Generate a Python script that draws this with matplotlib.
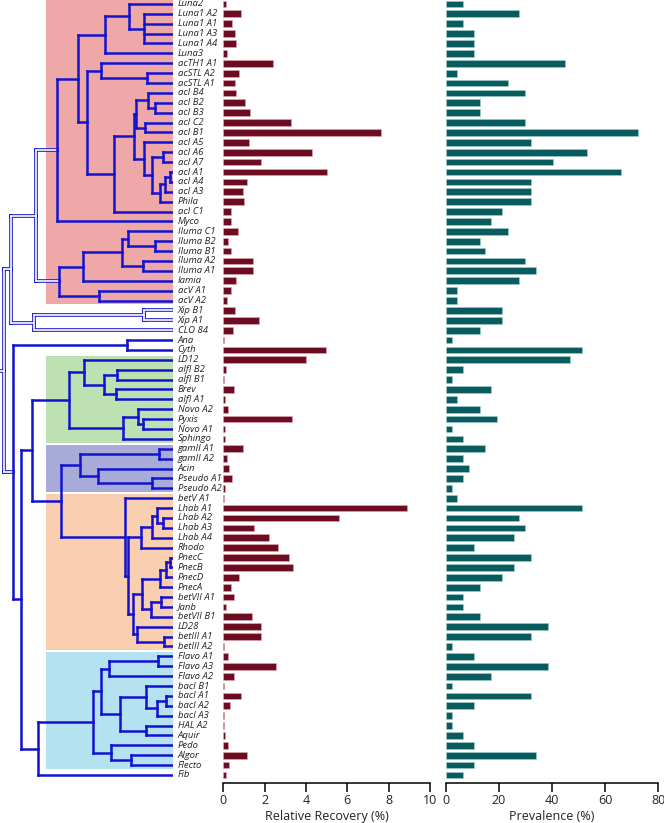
import matplotlib
matplotlib.use('Agg')
import matplotlib.pyplot as plt
from matplotlib.collections import LineCollection
from matplotlib.patches import Rectangle

labels = ['Luna2', 'Luna1 A2', 'Luna1 A1', 'Luna1 A3', 'Luna1 A4', 'Luna3',
          'acTH1 A1', 'acSTL A2', 'acSTL A1', 'acI B4', 'acI B2', 'acI B3',
          'acI C2', 'acI B1', 'acI A5', 'acI A6', 'acI A7', 'acI A1', 'acI A4',
          'acI A3', 'Phila', 'acI C1', 'Myco', 'Iluma C1', 'Iluma B2',
          'Iluma B1', 'Iluma A2', 'Iluma A1', 'Iamia', 'acV A1', 'acV A2',
          'Xip B1', 'Xip A1', 'CLO 84', 'Ana', 'Cyth', 'LD12', 'alfI B2',
          'alfI B1', 'Brev', 'alfI A1', 'Novo A2', 'Pyxis', 'Novo A1',
          'Sphingo', 'gamII A1', 'gamII A2', 'Acin', 'Pseudo A1', 'Pseudo A2',
          'betV A1', 'Lhab A1', 'Lhab A2', 'Lhab A3', 'Lhab A4', 'Rhodo',
          'PnecC', 'PnecB', 'PnecD', 'PnecA', 'betVII A1', 'Janb', 'betVII B1',
          'LD28', 'betIII A1', 'betIII A2', 'Flavo A1', 'Flavo A3', 'Flavo A2',
          'bacI B1', 'bacI A1', 'bacI A2', 'bacI A3', 'HAL A2', 'Aquir', 'Pedo',
          'Algor', 'Flecto', 'Fib']

recovery = [0.15, 0.85, 0.40, 0.55, 0.63, 0.16, 2.39, 0.76, 0.55, 0.60, 1.03,
            1.27, 3.27, 7.65, 1.23, 4.31, 1.82, 5.00, 1.16, 0.95, 0.98, 0.39,
            0.39, 0.71, 0.21, 0.39, 1.42, 1.42, 0.63, 0.39, 0.16, 0.58, 1.71,
            0.45, 0.02, 4.98, 3.98, 0.13, 0.02, 0.53, 0.10, 0.21, 3.31, 0.08,
            0.10, 0.95, 0.19, 0.27, 0.42, 0.06, 0.03, 8.87, 5.60, 1.50, 2.23,
            2.63, 3.16, 3.35, 0.76, 0.35, 0.50, 0.11, 1.37, 1.81, 1.81, 0.02,
            0.23, 2.55, 0.53, 0.02, 0.87, 0.32, 0.02, 0.02, 0.10, 0.23, 1.16,
            0.26, 0.13]

prevalence = [6.5, 27.7, 6.5, 10.8, 10.8, 10.8, 44.8, 4.4, 23.5, 29.8, 12.9,
              12.9, 29.8, 72.5, 32.0, 53.3, 40.5, 66.1, 32.0, 32.0, 32.0, 21.3,
              17.0, 23.5, 12.9, 14.9, 29.8, 34.1, 27.7, 4.4, 4.4, 21.3, 21.3,
              12.9, 2.3, 51.2, 46.9, 6.5, 2.3, 17.0, 4.4, 12.9, 19.2, 2.3, 6.5,
              14.9, 6.5, 8.7, 6.5, 2.3, 4.4, 51.2, 27.7, 29.8, 25.6, 10.8,
              32.0, 25.6, 21.3, 12.9, 6.5, 6.5, 12.9, 38.4, 32.0, 2.3, 10.8,
              38.4, 17.0, 2.3, 32.0, 10.8, 2.3, 2.3, 6.5, 10.8, 34.1, 10.8, 6.5]


def N(h, *children, weak=False):
    return {'h': h, 'children': list(children), 'weak': weak}


TIP_DEPTH = 172

luna = N(105, N(129, 'Luna2', N(144, 'Luna1 A2', 'Luna1 A1', 'Luna1 A3', 'Luna1 A4')), 'Luna3')
acI_B = N(135.5, N(148, 'acI B4', N(155, 'acI B2', 'acI B3')), N(145, 'acI C2', 'acI B1'))
acI_A = N(144, 'acI A5', N(152, N(163, 'acI A6', 'acI A7'),
                            N(160, N(165, N(170, 'acI A1', 'acI A4'), 'acI A3'), 'Phila')))
acI = N(114, N(134, acI_B, acI_A), 'acI C1')
ac_group = N(87, N(101, 'acTH1 A1', N(147, 'acSTL A2', 'acSTL A1')), acI)
actino_a = N(57, N(78, luna, ac_group), 'Myco')
actino_b = N(59, N(83, N(122, N(128, 'Iluma C1', N(155, 'Iluma B2', 'Iluma B1')),
                         N(143, 'Iluma A2', 'Iluma A1')), 'Iamia'),
             N(99, 'acV A1', 'acV A2'))
actino = N(36, actino_a, actino_b, weak=True)
xip = N(34, N(144, 'Xip B1', 'Xip A1', weak=True), 'CLO 84', weak=True)
upper = N(11, actino, xip, weak=True)

alpha = N(69, N(84, 'LD12', N(104, N(117, 'alfI B2', 'alfI B1'), N(116, 'Brev', 'alfI A1'))),
          N(123, N(138, 'Novo A2', N(143, 'Pyxis', 'Novo A1')), 'Sphingo'))
gamma = N(80, N(159, 'gamII A1', 'gamII A2'), N(98, 'Acin', N(152, 'Pseudo A1', 'Pseudo A2')))
lhab = N(141, N(152, N(157, 'Lhab A1', N(163, 'Lhab A2', 'Lhab A3')), 'Lhab A4'), 'Rhodo')
pnec = N(142, N(160, N(166, N(170, 'PnecC', 'PnecB'), 'PnecD'), 'PnecA'),
         N(151, N(161, 'betVII A1', 'Janb'), 'betVII B1'))
ld28 = N(137, 'LD28', N(164, 'betIII A1', 'betIII A2'))
beta = N(125, 'betV A1', N(128, lhab, N(133, pnec, ld28)))
proteo = N(32, alpha, N(61, gamma, beta))
bact = N(93, N(101, N(109, N(158, 'Flavo A1', 'Flavo A3'), 'Flavo A2'),
               N(120, N(146, 'bacI B1', N(157, N(166, 'bacI A1', 'bacI A2'), 'bacI A3')),
                 N(146, 'HAL A2', 'Aquir'))),
         N(111, 'Pedo', N(131, 'Algor', 'Flecto')))
lower = N(13, N(127, 'Ana', 'Cyth'), N(21, proteo, N(38, bact, 'Fib')))
tree = N(4, upper, lower, weak=True)

shades = [('Luna2', 'acV A2', '#efa8a8'),
          ('LD12', 'Sphingo', '#bde1b3'),
          ('gamII A1', 'Pseudo A2', '#a8aad7'),
          ('betV A1', 'betIII A2', '#f9cfb0'),
          ('Flavo A1', 'Flecto', '#b4e2f1')]

row = {lab: i + 1 for i, lab in enumerate(labels)}

W, H = 664, 823
fig = plt.figure(figsize=(W / 100, H / 100), dpi=100)


def ax_px(left, right, top, bottom):
    return fig.add_axes([left / W, 1 - bottom / H, (right - left) / W, (bottom - top) / H])


YLIM = (79.81, 0.6)
BLUE = '#1212d0'

tax = ax_px(0, 173, 0, 783)
tax.set_xlim(0, 173)
tax.set_ylim(*YLIM)
tax.axis('off')

for first, last, col in shades:
    y0 = row[first] - 0.4
    y1 = row[last] + 0.4
    tax.add_patch(Rectangle((46, y0), 173 - 46, y1 - y0, facecolor=col,
                            edgecolor='none', zorder=0, clip_on=False))

solid, weak = [], []


def draw(node):
    if isinstance(node, str):
        return row[node], TIP_DEPTH
    res = [draw(c) for c in node['children']]
    h = node['h']
    segs = weak if node['weak'] else solid
    ys = [r[0] for r in res]
    segs.append([(h, ys[0]), (h, ys[-1])])
    for y, ch in res:
        segs.append([(h, y), (ch, y)])
    return (ys[0] + ys[-1]) / 2, h


ry, rh = draw(tree)
weak.append([(0, ry), (rh, ry)])

tax.add_collection(LineCollection(weak, colors=BLUE, linewidths=2.6,
                                  capstyle='projecting', zorder=2))
tax.add_collection(LineCollection(weak, colors='white', linewidths=1.2,
                                  capstyle='projecting', zorder=3))
tax.add_collection(LineCollection(solid, colors=BLUE, linewidths=1.8,
                                  capstyle='projecting', zorder=4))

for lab in labels:
    tax.text(177.5, row[lab], lab, fontsize=6.8, style='italic', family='Open Sans',
             va='center', ha='left', color='#222222', clip_on=False)

ypos = [row[l] for l in labels]


def style_bar_axis(ax, xmax, step, xlabel):
    ax.set_ylim(*YLIM)
    ax.set_xlim(0, xmax)
    for s in ('top', 'right', 'left'):
        ax.spines[s].set_visible(False)
    ax.spines['bottom'].set_linewidth(1.1)
    ax.set_yticks([])
    ax.set_xticks(range(0, xmax + 1, step))
    ax.tick_params(axis='x', direction='out', length=6.5, width=1.1, pad=1.5,
                   labelsize=9, labelcolor='#222222')
    for t in ax.get_xticklabels():
        t.set_family('Open Sans')
    ax.set_xlabel(xlabel, fontsize=9, family='Open Sans', labelpad=2, color='#222222')
    ax.patch.set_alpha(0)


bax1 = ax_px(223.3, 430, 0, 783)
bax1.barh(ypos, recovery, height=0.68, color='#6b0c20', edgecolor='#e4a9b3',
          linewidth=0.4)
style_bar_axis(bax1, 10, 2, 'Relative Recovery (%)')

bax2 = ax_px(445.7, 658.3, 0, 783)
bax2.barh(ypos, prevalence, height=0.68, color='#0a5b5e', edgecolor='#9fd3d3',
          linewidth=0.4)
style_bar_axis(bax2, 80, 20, 'Prevalence (%)')

fig.savefig('out.png', dpi=100)
